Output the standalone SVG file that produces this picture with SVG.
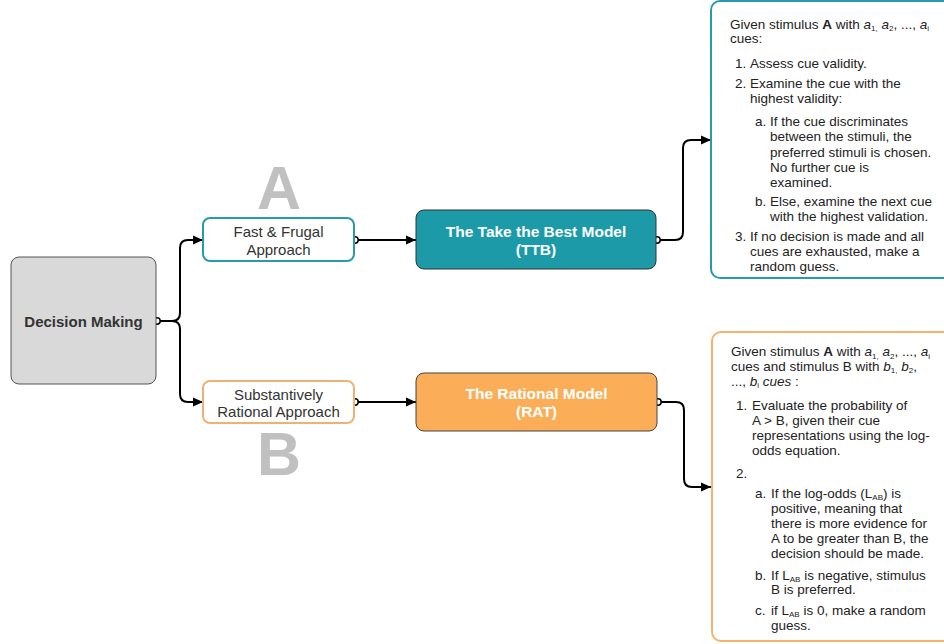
<svg xmlns="http://www.w3.org/2000/svg" width="944" height="644" viewBox="0 0 944 644">
<defs>
<marker id="arr" markerUnits="userSpaceOnUse" markerWidth="11" markerHeight="10" refX="10" refY="5" orient="auto">
<path d="M0,0.5 L10,5 L0,9.5 z" fill="#000"/>
</marker>
<style>
.t{font-family:"Liberation Sans",Arial,Helvetica,sans-serif;}
.body{font-family:"Liberation Sans",Arial,Helvetica,sans-serif;font-size:13.5px;fill:#222;}
.big{font-family:"Liberation Sans",Arial,sans-serif;font-size:61px;font-weight:bold;fill:#c0c0c0;text-anchor:middle;}
.conn{fill:none;stroke:#000;stroke-width:2;}
.dot{fill:#fff;stroke:#000;stroke-width:1.5;}
.sub{font-size:8px;}
</style>
</defs>
<rect width="944" height="644" fill="#fff"/>

<g id="labelA"><text class="big" x="279" y="209">A</text></g>
<g id="labelB"><text class="big" x="279" y="475">B</text></g>

<g id="connectors">
<path class="conn" d="M157,321 H172 Q180,321 180,313 V248 Q180,240 188,240 H203" marker-end="url(#arr)"/>
<path class="conn" d="M157,321 H172 Q180,321 180,329 V394 Q180,402 188,402 H203" marker-end="url(#arr)"/>
<path class="conn" d="M355,240 H416" marker-end="url(#arr)"/>
<path class="conn" d="M355,402 H416" marker-end="url(#arr)"/>
<path class="conn" d="M657,240 H675 Q683,240 683,232 V148 Q683,140 691,140 H711" marker-end="url(#arr)"/>
<path class="conn" d="M658,402 H676 Q684,402 684,410 V479 Q684,487 692,487 H711" marker-end="url(#arr)"/>
<circle class="dot" cx="157" cy="321" r="3.2"/>
<circle class="dot" cx="355" cy="240" r="3.2"/>
<circle class="dot" cx="355" cy="402" r="3.2"/>
<circle class="dot" cx="657" cy="240" r="3.2"/>
<circle class="dot" cx="658" cy="402" r="3.2"/>
</g>

<g id="decision">
<rect x="11" y="257" width="145" height="127" rx="8" fill="#d9d9d9" stroke="#555" stroke-width="1"/>
<text class="t" x="83.5" y="326.5" font-size="15" font-weight="bold" fill="#333" text-anchor="middle">Decision Making</text>
</g>

<g id="fastfrugal">
<rect x="203" y="218" width="151" height="43" rx="7" fill="#fff" stroke="#2a9aaa" stroke-width="2"/>
<text class="t" font-size="15" fill="#333" text-anchor="middle"><tspan x="278.5" y="237">Fast &amp; Frugal</tspan><tspan x="278.5" y="254.5">Approach</tspan></text>
</g>

<g id="substantive">
<rect x="203" y="381" width="151" height="42" rx="7" fill="#fff" stroke="#f0b274" stroke-width="2"/>
<text class="t" font-size="15" fill="#333" text-anchor="middle"><tspan x="278.5" y="399.5">Substantively</tspan><tspan x="278.5" y="417">Rational Approach</tspan></text>
</g>

<g id="ttb">
<rect x="416" y="210" width="240" height="59" rx="8" fill="#1c9aa8" stroke="#333" stroke-width="1"/>
<text class="t" font-size="15.5" font-weight="bold" fill="#fff" text-anchor="middle"><tspan x="536" y="237">The Take the Best Model</tspan><tspan x="536" y="254.5">(TTB)</tspan></text>
</g>

<g id="rat">
<rect x="416" y="373" width="241" height="58" rx="8" fill="#fbae57" stroke="#444" stroke-width="1"/>
<text class="t" font-size="15.5" font-weight="bold" fill="#fff" text-anchor="middle"><tspan x="536.5" y="399">The Rational Model</tspan><tspan x="536.5" y="416.5">(RAT)</tspan></text>
</g>

<g id="ttbDetails">
<rect x="711" y="1" width="260" height="277" rx="9" fill="#fff" stroke="#2a9aaa" stroke-width="2"/>
<text class="body" x="730" y="28.5">Given stimulus <tspan font-weight="bold">A</tspan> with <tspan font-style="italic">a</tspan><tspan class="sub" dy="2.5">1,</tspan><tspan dy="-2.5"> </tspan><tspan font-style="italic">a</tspan><tspan class="sub" dy="2.5">2</tspan><tspan dy="-2.5">, ..., </tspan><tspan font-style="italic">a</tspan><tspan class="sub" dy="2.5">i</tspan></text>
<text class="body" x="730" y="43">cues:</text>
<text class="body" x="735" y="67.5">1.</text><text class="body" x="750" y="67.5">Assess cue validity.</text>
<text class="body" x="735" y="87.5">2.</text>
<text class="body"><tspan x="750" y="87.5">Examine the cue with the</tspan><tspan x="750" y="102.5">highest validity:</tspan></text>
<text class="body" x="755" y="126">a.</text>
<text class="body"><tspan x="770" y="126">If the cue discriminates</tspan><tspan x="770" y="141">between the stimuli, the</tspan><tspan x="770" y="156.5">preferred stimuli is chosen.</tspan><tspan x="770" y="171.5">No further cue is</tspan><tspan x="770" y="186.5">examined.</tspan></text>
<text class="body" x="755" y="205.5">b.</text>
<text class="body"><tspan x="770" y="205.5">Else, examine the next cue</tspan><tspan x="770" y="220.5">with the highest validation.</tspan></text>
<text class="body" x="735" y="240.5">3.</text>
<text class="body"><tspan x="750" y="240.5">If no decision is made and all</tspan><tspan x="750" y="256">cues are exhausted, make a</tspan><tspan x="750" y="271">random guess.</tspan></text>
</g>

<g id="ratDetails">
<rect x="712" y="332" width="260" height="309" rx="9" fill="#fff" stroke="#f5b36e" stroke-width="2"/>
<text class="body" x="731" y="356">Given stimulus <tspan font-weight="bold">A</tspan> with <tspan font-style="italic">a</tspan><tspan class="sub" dy="2.5">1,</tspan><tspan dy="-2.5"> </tspan><tspan font-style="italic">a</tspan><tspan class="sub" dy="2.5">2</tspan><tspan dy="-2.5">, ..., </tspan><tspan font-style="italic">a</tspan><tspan class="sub" dy="2.5">i</tspan></text>
<text class="body" x="731" y="370.5">cues and stimulus B with <tspan font-style="italic">b</tspan><tspan class="sub" dy="2.5">1,</tspan><tspan dy="-2.5"> </tspan><tspan font-style="italic">b</tspan><tspan class="sub" dy="2.5">2</tspan><tspan dy="-2.5">,</tspan></text>
<text class="body" x="731" y="385.5">..., <tspan font-style="italic">b</tspan><tspan class="sub" dy="2.5">i</tspan><tspan dy="-2.5" font-style="italic"> cues</tspan> :</text>
<text class="body" x="736" y="409.5">1.</text>
<text class="body"><tspan x="752" y="409.5">Evaluate the probability of</tspan><tspan x="752" y="424.5">A &gt; B, given their cue</tspan><tspan x="752" y="439.5">representations using the log-</tspan><tspan x="752" y="454.5">odds equation.</tspan></text>
<text class="body" x="736" y="478">2.</text>
<text class="body" x="755" y="497.5">a.</text>
<text class="body"><tspan x="771" y="497.5">If the log-odds (L<tspan class="sub" dy="2">AB</tspan><tspan dy="-2">) is</tspan></tspan><tspan x="771" y="512.5">positive, meaning that</tspan><tspan x="771" y="527.5">there is more evidence for</tspan><tspan x="771" y="542.5">A to be greater than B, the</tspan><tspan x="771" y="557.5">decision should be made.</tspan></text>
<text class="body" x="755" y="579.5">b.</text>
<text class="body"><tspan x="771" y="579.5">If L<tspan class="sub" dy="2">AB</tspan><tspan dy="-2"> is negative, stimulus</tspan></tspan><tspan x="771" y="594">B is preferred.</tspan></text>
<text class="body" x="755" y="614.5">c.</text>
<text class="body"><tspan x="771" y="614.5">if L<tspan class="sub" dy="2">AB</tspan><tspan dy="-2"> is 0, make a random</tspan></tspan><tspan x="771" y="629.5">guess.</tspan></text>
</g>
</svg>
